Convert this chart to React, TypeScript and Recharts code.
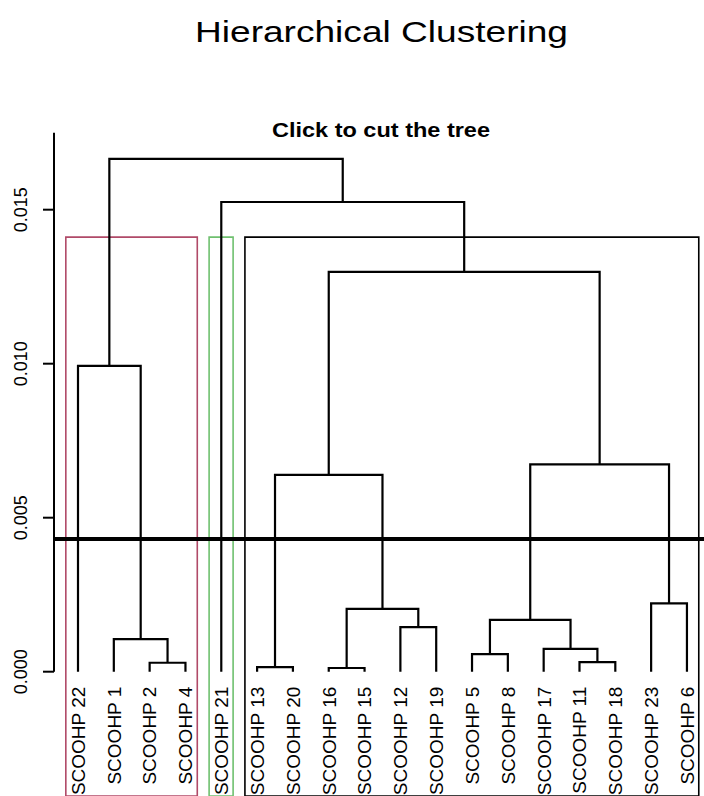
import React from "react";
import {
  ComposedChart,
  Line,
  Scatter,
  XAxis,
  YAxis,
  ReferenceLine,
  ReferenceArea,
} from "recharts";

// Leaf labels in dendrogram order
const leaves = [
  "SCOOHP 22", "SCOOHP 1", "SCOOHP 2", "SCOOHP 4", "SCOOHP 21",
  "SCOOHP 13", "SCOOHP 20", "SCOOHP 16", "SCOOHP 15", "SCOOHP 12",
  "SCOOHP 19", "SCOOHP 5", "SCOOHP 8", "SCOOHP 17", "SCOOHP 11",
  "SCOOHP 18", "SCOOHP 23", "SCOOHP 6",
];

// Merge table (R hclust style): negative = leaf (1-based), positive = earlier merge
const mergeLeft = [-3, -2, -1, -6, -8, -10, 5, 4, -12, -15, -14, 9, -17, 12, 8, -5, 3];
const mergeRight = [-4, 1, 2, -7, -9, -11, 6, 7, -13, -16, 10, 11, -18, 13, 14, 15, 16];
const mergeHeight = [
  0.00029, 0.00106, 0.00993, 0.00015, 0.00012, 0.00145, 0.00204, 0.00639,
  0.00057, 0.00031, 0.00074, 0.00168, 0.00222, 0.00673, 0.01298, 0.01525, 0.01665,
];

const yTicks = [0, 0.005, 0.01, 0.015];
const cutHeight = 0.00431;
const rectTop = 0.01411;
// cluster boxes: [first leaf, last leaf]
const clusterFirst = [1, 5, 6];
const clusterLast = [4, 5, 18];
const clusterColors = ["#b04a68", "#6fc06f", "#000000"];

const X_DOMAIN: [number, number] = [0.33, 18.476];
const Y_DOMAIN: [number, number] = [-0.0040357, 0.021808];

// Build dendrogram segments
const centers: number[] = [];
const nodeX = (ref: number) => (ref < 0 ? -ref : centers[ref - 1]);
const nodeH = (ref: number) => (ref < 0 ? 0 : mergeHeight[ref - 1]);
const branches = mergeHeight.map((h, i) => {
  const l = mergeLeft[i];
  const r = mergeRight[i];
  const xl = nodeX(l);
  const xr = nodeX(r);
  centers.push((xl + xr) / 2);
  return [
    { x: xl, y: nodeH(l) },
    { x: xl, y: h },
    { x: xr, y: h },
    { x: xr, y: nodeH(r) },
  ];
});

const leafData = leaves.map((name, i) => ({ x: i + 1, y: 0, name }));

const FONT = "'Liberation Sans', Arial, Helvetica, sans-serif";

const LeafLabel = (props: any) => {
  const { cx, cy, payload } = props;
  if (cx == null || cy == null) return null;
  const y = cy + 15;
  return (
    <text
      x={cx}
      y={y}
      transform={`rotate(-90, ${cx}, ${y})`}
      textAnchor="end"
      dy="0.36em"
      fontSize={19}
      fontFamily={FONT}
      fill="#000"
    >
      {payload.name}
    </text>
  );
};

const YTick = (props: any) => {
  const { y, payload } = props;
  const x = 21;
  return (
    <text
      x={x}
      y={y}
      transform={`rotate(-90, ${x}, ${y})`}
      textAnchor="middle"
      dy="0.36em"
      fontSize={18}
      fontFamily={FONT}
      fill="#000"
    >
      {Number(payload.value).toFixed(3)}
    </text>
  );
};

export default function App() {
  return (
    <div
      style={{
        position: "absolute",
        left: 0,
        top: 0,
        width: 704,
        height: 796,
        background: "#fff",
        overflow: "hidden",
      }}
    >
      <svg
        width={704}
        height={796}
        style={{ position: "absolute", left: 0, top: 0, pointerEvents: "none" }}
      >
        <text
          x={381.5}
          y={41.7}
          textAnchor="middle"
          fontSize={30}
          fontFamily={FONT}
          textLength={373}
          lengthAdjust="spacingAndGlyphs"
          fill="#000"
        >
          Hierarchical Clustering
        </text>
        <text
          x={381}
          y={136.7}
          textAnchor="middle"
          fontSize={20}
          fontWeight="bold"
          fontFamily={FONT}
          textLength={218}
          lengthAdjust="spacingAndGlyphs"
          fill="#000"
        >
          Click to cut the tree
        </text>
      </svg>
      <ComposedChart
        width={704}
        height={796}
        margin={{ top: 0, right: 0, bottom: 0, left: 0 }}
        style={{ position: "absolute", left: 0, top: 0 }}
      >
        <XAxis
          dataKey="x"
          type="number"
          domain={X_DOMAIN}
          allowDataOverflow
          hide
        />
        <YAxis
          dataKey="y"
          type="number"
          domain={Y_DOMAIN}
          allowDataOverflow
          ticks={yTicks}
          width={54}
          axisLine={false}
          tickSize={11}
          tickLine={{ stroke: "#000", strokeWidth: 2 }}
          tick={<YTick />}
          interval={0}
        />
        {clusterFirst.map((f, i) => (
          <ReferenceArea
            key={`box-${i}`}
            x1={f - 0.34}
            x2={clusterLast[i] + 0.33}
            y1={Y_DOMAIN[0]}
            y2={rectTop}
            fill="none"
            fillOpacity={0}
            stroke={clusterColors[i]}
            strokeWidth={1.6}
            ifOverflow="visible"
          />
        ))}
        {branches.map((pts, i) => (
          <Line
            key={`br-${i}`}
            data={pts}
            dataKey="y"
            type="linear"
            stroke="#000"
            strokeWidth={2.2}
            dot={false}
            activeDot={false}
            isAnimationActive={false}
          />
        ))}
        <ReferenceLine
          segment={[
            { x: X_DOMAIN[0], y: 0 },
            { x: X_DOMAIN[0], y: 0.0175 },
          ]}
          stroke="#000"
          strokeWidth={2}
          ifOverflow="visible"
        />
        <ReferenceLine y={cutHeight} stroke="#000" strokeWidth={4} />
        <Scatter
          data={leafData}
          dataKey="y"
          shape={<LeafLabel />}
          isAnimationActive={false}
        />
      </ComposedChart>
    </div>
  );
}
